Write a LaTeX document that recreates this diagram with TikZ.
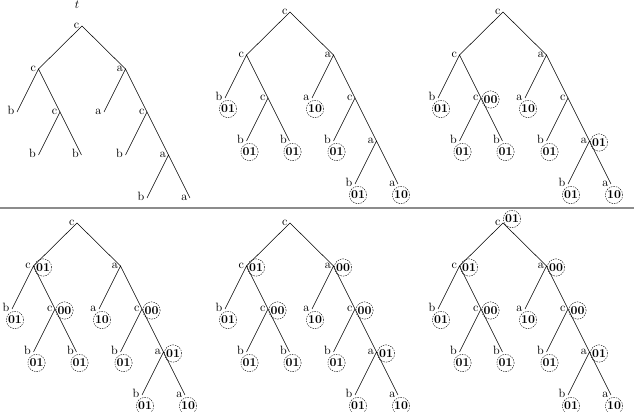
\documentclass[tikz,border=0pt]{standalone}
\usetikzlibrary{calc}
\tikzset{
  lab/.style={anchor=base east, inner sep=0pt, xshift=-2pt, yshift=-2pt},
  cc/.style={circle, draw, line width=0.35pt, dash pattern=on 1.2pt off 0.9pt, inner sep=0.4pt, font=\bfseries},
  edge/.style={line width=0.45pt},
  sep/.style={draw=black!45, line width=1.4pt}
}
% #1 prefix, #2 x, #3 y of root
\newcommand{\mytree}[3]{%
  \coordinate (#1r) at (#2,#3);
  \coordinate (#1L) at ([shift={(-43.5,43)}]#1r);
  \coordinate (#1A) at ([shift={(43.5,43)}]#1r);
  \coordinate (#1Lb) at ([shift={(-21.5,43)}]#1L);
  \coordinate (#1Lc) at ([shift={(21.5,43)}]#1L);
  \coordinate (#1Lcb) at ([shift={(-21.5,43)}]#1Lc);
  \coordinate (#1Lcc) at ([shift={(21.5,43)}]#1Lc);
  \coordinate (#1Aa) at ([shift={(-21.5,43)}]#1A);
  \coordinate (#1Ac) at ([shift={(21.5,43)}]#1A);
  \coordinate (#1Acb) at ([shift={(-21.5,43)}]#1Ac);
  \coordinate (#1Aca) at ([shift={(21.5,43)}]#1Ac);
  \coordinate (#1Acab) at ([shift={(-21.5,43)}]#1Aca);
  \coordinate (#1Acaa) at ([shift={(21.5,43)}]#1Aca);
  \draw[edge] (#1L) -- (#1r) -- (#1A);
  \draw[edge] (#1Lb) -- (#1L) -- (#1Lc);
  \draw[edge] (#1Lcb) -- (#1Lc) -- (#1Lcc);
  \draw[edge] (#1Aa) -- (#1A) -- (#1Ac);
  \draw[edge] (#1Acb) -- (#1Ac) -- (#1Aca);
  \draw[edge] (#1Acab) -- (#1Aca) -- (#1Acaa);
  \node[lab] (#1tr) at (#1r) {c};
  \node[lab] (#1tL) at (#1L) {c};
  \node[lab] (#1tA) at (#1A) {a};
  \node[lab] (#1tLb) at (#1Lb) {b};
  \node[lab] (#1tLc) at (#1Lc) {c};
  \node[lab] (#1tLcb) at (#1Lcb) {b};
  \node[lab] (#1tLcc) at (#1Lcc) {b};
  \node[lab] (#1tAa) at (#1Aa) {a};
  \node[lab] (#1tAc) at (#1Ac) {c};
  \node[lab] (#1tAcb) at (#1Acb) {b};
  \node[lab] (#1tAca) at (#1Aca) {a};
  \node[lab] (#1tAcab) at (#1Acab) {b};
  \node[lab] (#1tAcaa) at (#1Acaa) {a};
}
% leaf circle: #1 prefix, #2 vertex name, #3 text
\newcommand{\leafc}[3]{\node[cc] (#1c#2) at ([shift={(3,11)}]#1#2) {#3};}
\newcommand{\innc}[3]{\node[cc] (#1c#2) at ([shift={(9.5,1.5)}]#1#2) {#3};}
\newcommand{\leaves}[1]{%
  \leafc{#1}{Lb}{01}\leafc{#1}{Lcb}{01}\leafc{#1}{Lcc}{01}%
  \leafc{#1}{Aa}{10}\leafc{#1}{Acb}{01}\leafc{#1}{Acab}{01}\leafc{#1}{Acaa}{10}}
\begin{document}
\begin{tikzpicture}[x=0.83pt,y=-0.83pt]
\useasboundingbox (0,0) rectangle (634,412);
% panel 1
\node[anchor=base] (tlab) at (77,9) {$t$};
\mytree{a}{82}{26}
% panel 2
\mytree{b}{290}{12}
\leaves{b}
% panel 3
\mytree{c}{503}{12}
\leaves{c}
\innc{c}{Lc}{00}\innc{c}{Aca}{01}
% separator
\coordinate (s1) at (0,208);
\coordinate (s2) at (634,208);
\draw[sep] (s1) -- (s2);
% panel 4
\mytree{d}{77}{223}
\leaves{d}
\innc{d}{Lc}{00}\innc{d}{Aca}{01}\innc{d}{L}{01}\innc{d}{Ac}{00}
% panel 5
\mytree{e}{290}{223}
\leaves{e}
\innc{e}{Lc}{00}\innc{e}{Aca}{01}\innc{e}{L}{01}\innc{e}{Ac}{00}\innc{e}{A}{00}
% panel 6
\mytree{f}{503}{223}
\leaves{f}
\innc{f}{Lc}{00}\innc{f}{Aca}{01}\innc{f}{L}{01}\innc{f}{Ac}{00}\innc{f}{A}{00}
\node[cc] (fcr) at ([shift={(9,-4)}]fr) {01};
\end{tikzpicture}
\end{document}
